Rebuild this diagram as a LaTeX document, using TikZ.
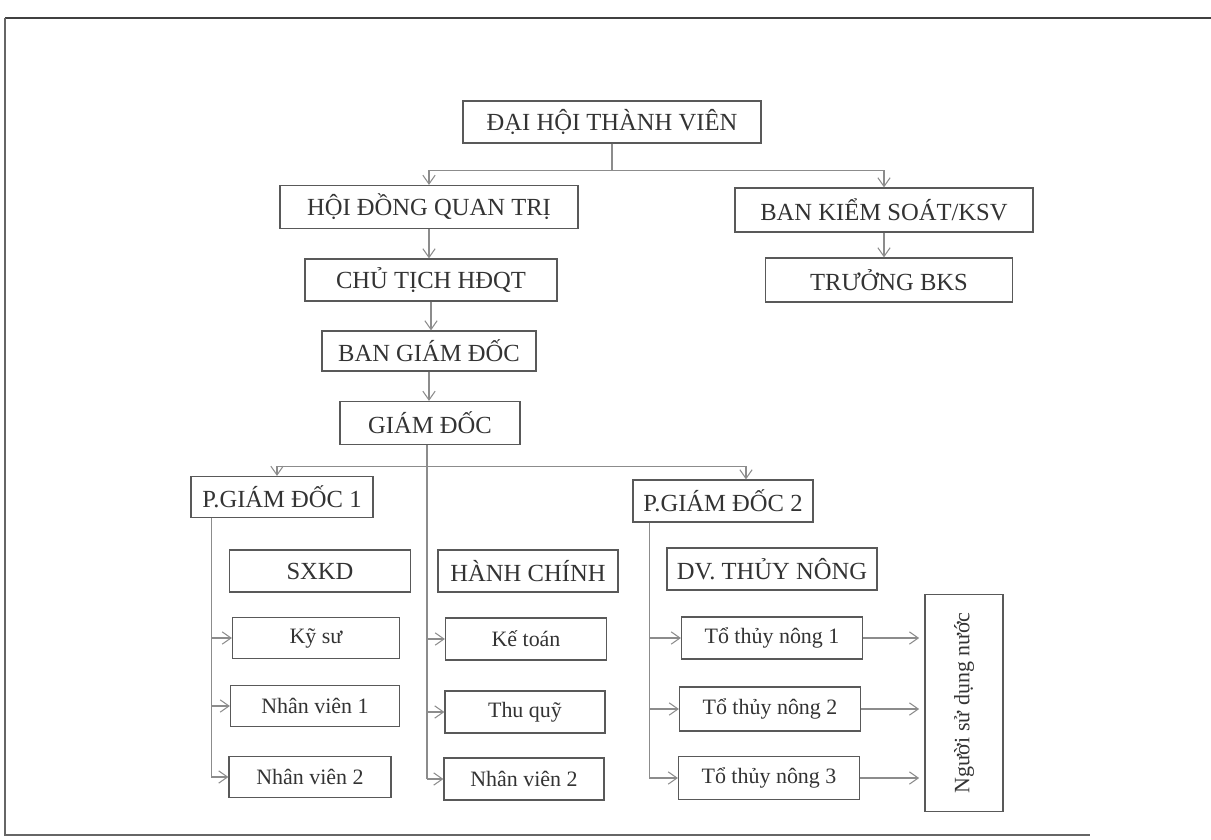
\documentclass[tikz,border=0pt]{standalone}
\usepackage{fontspec}
\setmainfont{Liberation Serif}
\usepackage{graphicx}
\usetikzlibrary{arrows.meta}

\begin{document}
\begin{tikzpicture}[x=0.02cm,y=-0.02cm,
  box/.style={draw=black!65,line width=0.7pt,text=black!80,inner sep=0pt,minimum height=0.84cm},
  capbox/.style={box,font=\fontsize{14}{16}\selectfont},
  lowbox/.style={box,font=\fontsize{12.5}{14}\selectfont},
  link/.style={draw=black!45,line width=0.6pt},
  arr/.style={link,-{Straight Barb[length=5pt,width=7pt]}}]
  \useasboundingbox (0,0) rectangle (1211,839);
  % frame of the scan
  \draw[black!75,line width=1.6pt] (5,18) -- (1211,18);
  \draw[black!60,line width=1pt] (5,18) -- (5,835) -- (1090,835);
  % top levels
  \node[capbox,minimum width=5.96cm] (dhtv) at (612,122) {ĐẠI HỘI THÀNH VIÊN};
  \node[capbox,minimum width=5.96cm,minimum height=0.86cm] (hdqt) at (429,207) {HỘI ĐỒNG QUAN TRỊ};
  \node[capbox,minimum width=5.96cm,minimum height=0.88cm] (bks) at (884,210) {BAN KIỂM SOÁT/KSV};
  \node[capbox,minimum width=5.04cm] (ctich) at (431,280) {CHỦ TỊCH HĐQT};
  \node[capbox,minimum width=4.94cm,minimum height=0.88cm] (truong) at (889,280) {TRƯỞNG BKS};
  \node[capbox,minimum width=4.28cm,minimum height=0.8cm] (bgd) at (429,351) {BAN GIÁM ĐỐC};
  \node[capbox,minimum width=3.6cm,minimum height=0.86cm] (gd) at (430,423) {GIÁM ĐỐC};
  \node[capbox,minimum width=3.64cm,minimum height=0.82cm] (pgd1) at (282,497) {P.GIÁM ĐỐC 1};
  \node[capbox,minimum width=3.6cm] (pgd2) at (723,501) {P.GIÁM ĐỐC 2};
  % departments
  \node[capbox,minimum width=3.62cm] (sxkd) at (320,571) {SXKD};
  \node[capbox,minimum width=3.6cm] (hchinh) at (528,571) {HÀNH CHÍNH};
  \node[capbox,minimum width=4.2cm] (dvtn) at (772,569) {DV. THỦY NÔNG};
  \node[lowbox,minimum width=3.34cm,minimum height=0.82cm] (kysu) at (316,638) {Kỹ sư};
  \node[lowbox,minimum width=3.38cm,minimum height=0.82cm] (nv1) at (315,706) {Nhân viên 1};
  \node[lowbox,minimum width=3.24cm,minimum height=0.82cm] (nv2a) at (310,777) {Nhân viên 2};
  \node[lowbox,minimum width=3.22cm] (ketoan) at (526,639) {Kế toán};
  \node[lowbox,minimum width=3.2cm] (thuquy) at (525,712) {Thu quỹ};
  \node[lowbox,minimum width=3.2cm] (nv2b) at (524,779) {Nhân viên 2};
  \node[lowbox,minimum width=3.62cm] (to1) at (772,638) {Tổ thủy nông 1};
  \node[lowbox,minimum width=3.62cm,minimum height=0.88cm] (to2) at (770,709) {Tổ thủy nông 2};
  \node[lowbox,minimum width=3.62cm,minimum height=0.86cm] (to3) at (769,778) {Tổ thủy nông 3};
  \node[lowbox,minimum width=1.56cm,minimum height=4.34cm] (nguoi) at (964,703) {\rotatebox{90}{Người sử dụng nước}};
  % links
  \draw[arr] (dhtv.south) -- ++(0,27) -| (hdqt.north);
  \draw[arr] (dhtv.south) -- ++(0,27) -| (bks.north);
  \draw[arr] (hdqt.south) -- (hdqt.south |- ctich.north);
  \draw[arr] (bks.south) -- (bks.south |- truong.north);
  \draw[arr] (ctich.south) -- (ctich.south |- bgd.north);
  \draw[arr] (bgd.south) -- (bgd.south |- gd.north);
  \coordinate (gdv) at ([xshift=-0.06cm]gd.south);
  \draw[arr] (gdv) -- ++(0,21) -| ([xshift=-0.1cm]pgd1.north);
  \draw[arr] (gdv) -- ++(0,21) -| ([xshift=0.46cm]pgd2.north);
  \draw[link] (gdv) -- (gdv |- nv2b.west);
  \foreach \n in {ketoan,thuquy,nv2b}
    \draw[arr] (gdv |- \n.west) -- (\n.west);
  \coordinate (p1v) at ([xshift=0.42cm]pgd1.south west);
  \draw[link] (p1v) -- (p1v |- nv2a.west);
  \foreach \n in {kysu,nv1,nv2a}
    \draw[arr] (p1v |- \n.west) -- (\n.west);
  \coordinate (p2v) at ([xshift=0.34cm]pgd2.south west);
  \draw[link] (p2v) -- (p2v |- to3.west);
  \foreach \n in {to1,to2,to3}{
    \draw[arr] (p2v |- \n.west) -- (\n.west);
    \draw[arr,shorten >=3pt] (\n.east) -- (nguoi.west |- \n.east);
  }
\end{tikzpicture}
\end{document}
